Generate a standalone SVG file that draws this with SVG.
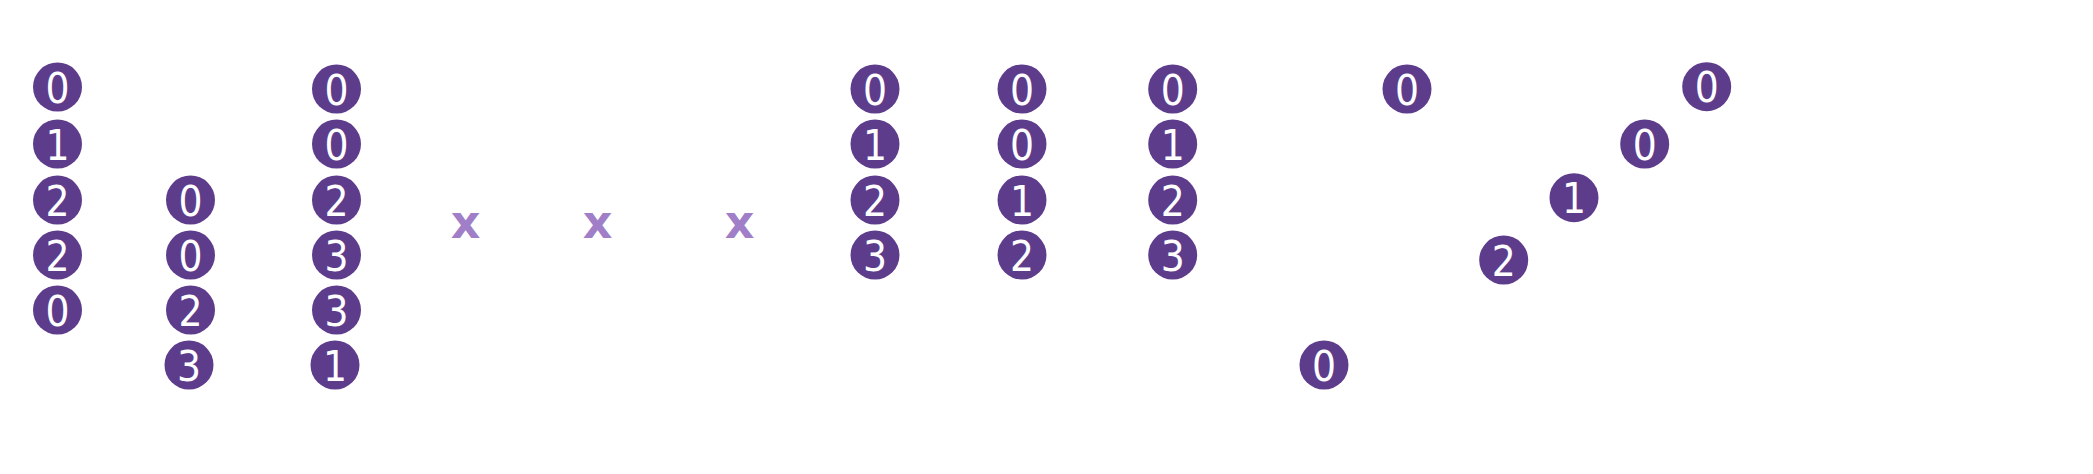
<svg xmlns="http://www.w3.org/2000/svg" width="2093" height="474" viewBox="0 0 2093 474">
<style>
.n circle{fill:#5e3c8c}
.n text{fill:#fff;font-family:"DejaVu Sans Condensed","DejaVu Sans",sans-serif;font-stretch:condensed;font-size:42px;text-anchor:middle}
.x{fill:#a07fc8;font-family:"DejaVu Sans",sans-serif;font-weight:bold;font-size:46px;text-anchor:middle}
</style>
<rect width="2093" height="474" fill="#fff"/>
<g id="col1">
<g class="n" id="a1"><circle cx="57.5" cy="87" r="24.5"/><text x="57.5" y="102.5">0</text></g>
<g class="n" id="a2"><circle cx="57.5" cy="144" r="24.5"/><text x="57.5" y="159.5">1</text></g>
<g class="n" id="a3"><circle cx="57.5" cy="200" r="24.5"/><text x="57.5" y="215.5">2</text></g>
<g class="n" id="a4"><circle cx="57.5" cy="255" r="24.5"/><text x="57.5" y="270.5">2</text></g>
<g class="n" id="a5"><circle cx="57.5" cy="310" r="24.5"/><text x="57.5" y="325.5">0</text></g>
</g>
<g id="col2">
<g class="n" id="b1"><circle cx="190.5" cy="200" r="24.5"/><text x="190.5" y="215.5">0</text></g>
<g class="n" id="b2"><circle cx="190.5" cy="255" r="24.5"/><text x="190.5" y="270.5">0</text></g>
<g class="n" id="b3"><circle cx="190.5" cy="310" r="24.5"/><text x="190.5" y="325.5">2</text></g>
<g class="n" id="b4"><circle cx="189" cy="365" r="24.5"/><text x="189" y="380.5">3</text></g>
</g>
<g id="col3">
<g class="n" id="c1"><circle cx="336.5" cy="89" r="24.5"/><text x="336.5" y="104.5">0</text></g>
<g class="n" id="c2"><circle cx="336.5" cy="144" r="24.5"/><text x="336.5" y="159.5">0</text></g>
<g class="n" id="c3"><circle cx="336.5" cy="200" r="24.5"/><text x="336.5" y="215.5">2</text></g>
<g class="n" id="c4"><circle cx="336.5" cy="255" r="24.5"/><text x="336.5" y="270.5">3</text></g>
<g class="n" id="c5"><circle cx="336.5" cy="310" r="24.5"/><text x="336.5" y="325.5">3</text></g>
<g class="n" id="c6"><circle cx="335" cy="365" r="24.5"/><text x="335" y="380.5">1</text></g>
</g>
<g id="marks">
<text class="x" x="465.7" y="237.7">x</text>
<text class="x" x="597.7" y="237.7">x</text>
<text class="x" x="739.7" y="237.7">x</text>
</g>
<g id="col4">
<g class="n" id="d1"><circle cx="875" cy="89" r="24.5"/><text x="875" y="104.5">0</text></g>
<g class="n" id="d2"><circle cx="875" cy="144" r="24.5"/><text x="875" y="159.5">1</text></g>
<g class="n" id="d3"><circle cx="875" cy="200" r="24.5"/><text x="875" y="215.5">2</text></g>
<g class="n" id="d4"><circle cx="875" cy="255" r="24.5"/><text x="875" y="270.5">3</text></g>
</g>
<g id="col5">
<g class="n" id="e1"><circle cx="1022" cy="89" r="24.5"/><text x="1022" y="104.5">0</text></g>
<g class="n" id="e2"><circle cx="1022" cy="144" r="24.5"/><text x="1022" y="159.5">0</text></g>
<g class="n" id="e3"><circle cx="1022" cy="200" r="24.5"/><text x="1022" y="215.5">1</text></g>
<g class="n" id="e4"><circle cx="1022" cy="255" r="24.5"/><text x="1022" y="270.5">2</text></g>
</g>
<g id="col6">
<g class="n" id="f1"><circle cx="1172.7" cy="89" r="24.5"/><text x="1172.7" y="104.5">0</text></g>
<g class="n" id="f2"><circle cx="1172.7" cy="144" r="24.5"/><text x="1172.7" y="159.5">1</text></g>
<g class="n" id="f3"><circle cx="1172.7" cy="200" r="24.5"/><text x="1172.7" y="215.5">2</text></g>
<g class="n" id="f4"><circle cx="1172.7" cy="255" r="24.5"/><text x="1172.7" y="270.5">3</text></g>
</g>
<g id="scatter">
<g class="n" id="g1"><circle cx="1407" cy="89" r="24.5"/><text x="1407" y="104.5">0</text></g>
<g class="n" id="g2"><circle cx="1706.7" cy="86.7" r="24.5"/><text x="1706.7" y="102.2">0</text></g>
<g class="n" id="g3"><circle cx="1644.7" cy="144" r="24.5"/><text x="1644.7" y="159.5">0</text></g>
<g class="n" id="g4"><circle cx="1574" cy="197.7" r="24.5"/><text x="1574" y="213.2">1</text></g>
<g class="n" id="g5"><circle cx="1503.7" cy="260" r="24.5"/><text x="1503.7" y="275.5">2</text></g>
<g class="n" id="g6"><circle cx="1324" cy="365" r="24.5"/><text x="1324" y="380.5">0</text></g>
</g>
<g id="connectors"></g>
</svg>
